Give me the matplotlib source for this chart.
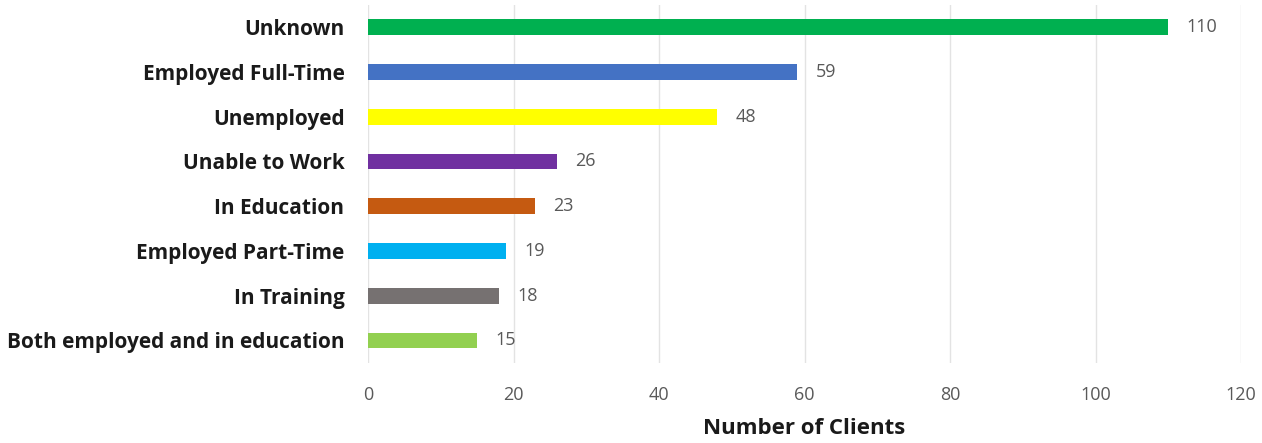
import matplotlib.pyplot as plt

categories = ["Unknown", "Employed Full-Time", "Unemployed", "Unable to Work",
              "In Education", "Employed Part-Time", "In Training",
              "Both employed and in education"]
clients = [110, 59, 48, 26, 23, 19, 18, 15]
colors = ["#00B050", "#4472C4", "#FFFF00", "#7030A0",
          "#C55A11", "#00B0F0", "#767171", "#92D050"]
ticks = [0, 20, 40, 60, 80, 100, 120]

plt.rcParams['font.family'] = ['Open Sans', 'DejaVu Sans']

fig = plt.figure(figsize=(12.62, 4.43), dpi=100)
ax = fig.add_axes([0.2916, 0.181, 0.6918, 0.808])

y = list(range(len(categories)))
ax.barh(y, clients, height=0.35, color=colors, zorder=3)
for yi, v in zip(y, clients):
    ax.text(v + 2.5, yi, str(v), va="center", ha="left", fontsize=13,
            color="#595959")

ax.set_ylim(len(categories) - 0.5, -0.5)
ax.set_xlim(0, 120)
ax.set_xticks(ticks)
ax.set_yticks(y)
ax.set_yticklabels(categories, fontsize=15, fontweight="bold",
                   color="#1a1a1a")
ax.tick_params(axis="x", colors="#595959", labelsize=13, length=0, pad=17)
ax.tick_params(axis="y", length=0, pad=17)
ax.grid(axis="x", color="#e3e3e3", linewidth=1, zorder=0)
for s in ax.spines.values():
    s.set_visible(False)
ax.set_xlabel("Number of Clients", fontsize=16, fontweight="bold",
              color="#1a1a1a", labelpad=10)

fig.savefig("out.png", dpi=100)
